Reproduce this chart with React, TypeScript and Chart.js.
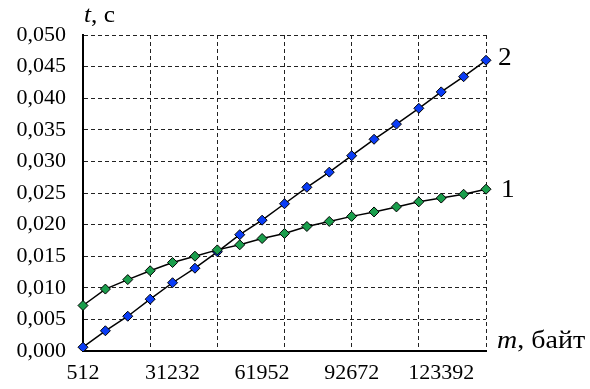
import React, { useEffect, useRef } from "react";
import { Chart, registerables } from "chart.js";

Chart.register(...registerables);

const categories = [
  "512", "8192", "15872", "23552", "31232", "38912", "46592", "54272", "61952",
  "69632", "77312", "84992", "92672", "100352", "108032", "115712", "123392",
  "131072", "138752",
];

// series 2 (blue)
const series2 = [
  0.0006, 0.0032, 0.0055, 0.0082, 0.0108, 0.0131, 0.0157, 0.0184, 0.0207,
  0.0233, 0.0259, 0.0283, 0.0309, 0.0335, 0.0359, 0.0384, 0.041, 0.0434, 0.046,
];

// series 1 (green)
const series1 = [
  0.0072, 0.0098, 0.0113, 0.0127, 0.014, 0.015, 0.016, 0.0168, 0.0178,
  0.0186, 0.0197, 0.0205, 0.0213, 0.022, 0.0228, 0.0236, 0.0242, 0.0248, 0.0256,
];

const yMin = 0;
const yMax = 0.05;
const yStep = 0.005;

const FONT = "'Liberation Serif', 'Times New Roman', serif";

function stretchedText(ctx: any, parts: { t: string; italic: boolean }[], x: number, y: number, size: number, sx: number) {
  ctx.save();
  ctx.translate(x, y);
  ctx.scale(sx, 1);
  let cx = 0;
  for (const p of parts) {
    ctx.font = `${p.italic ? "italic " : ""}${size}px ${FONT}`;
    ctx.fillText(p.t, cx, 0);
    cx += ctx.measureText(p.t).width;
  }
  ctx.restore();
}

const textPlugin = {
  id: "textLabels",
  afterDraw(chart: any) {
    const ctx = chart.ctx;
    ctx.save();
    ctx.fillStyle = "#000";
    ctx.textBaseline = "alphabetic";
    ctx.textAlign = "left";
    stretchedText(ctx, [{ t: "t", italic: true }, { t: ", c", italic: false }], 84, 22, 23, 1.1);
    stretchedText(ctx, [{ t: "m", italic: true }, { t: ", байт", italic: false }], 497, 348, 25, 1.12);
    stretchedText(ctx, [{ t: "2", italic: false }], 498, 65, 26, 1.05);
    stretchedText(ctx, [{ t: "1", italic: false }], 501, 197, 26, 1.05);
    ctx.restore();
  },
};

export default function App() {
  const ref = useRef<HTMLCanvasElement | null>(null);

  useEffect(() => {
    document.body.style.margin = "0";
    if (!ref.current) return;
    const chart = new Chart(ref.current, {
      type: "line",
      data: {
        labels: categories,
        datasets: [
          {
            label: "1",
            data: series1,
            borderColor: "#000",
            borderWidth: 1.5,
            backgroundColor: "#1a9e4c",
            pointBackgroundColor: "#1a9e4c",
            pointBorderColor: "#000",
            pointBorderWidth: 1,
            pointStyle: "rectRot",
            pointRadius: 5,
            tension: 0,
          },
          {
            label: "2",
            data: series2,
            borderColor: "#000",
            borderWidth: 1.5,
            backgroundColor: "#0a3cf5",
            pointBackgroundColor: "#0a3cf5",
            pointBorderColor: "#000",
            pointBorderWidth: 1,
            pointStyle: "rectRot",
            pointRadius: 5,
            tension: 0,
          },
        ],
      },
      options: {
        animation: false,
        responsive: true,
        maintainAspectRatio: false,
        layout: { padding: { top: 35, right: 104, bottom: 0, left: 0 } },
        plugins: {
          legend: { display: false },
          tooltip: { enabled: false },
        },
        scales: {
          x: {
            type: "category",
            offset: false,
            afterFit: (s: any) => {
              s.height = 38;
            },
            border: { display: true, color: "#000", width: 2, dash: [4, 3] },
            grid: {
              drawTicks: false,
              color: (c: any) => (c.index % 3 === 0 ? "#222" : "rgba(0,0,0,0)"),
              lineWidth: 1,
            },
            ticks: {
              autoSkip: false,
              maxRotation: 0,
              padding: 9,
              color: "#000",
              font: { family: FONT, size: 22 },
              callback: (_v: any, i: number) => (i % 4 === 0 ? categories[i] : ""),
            },
          },
          y: {
            min: yMin,
            max: yMax,
            afterFit: (s: any) => {
              s.width = 83;
            },
            border: { display: true, color: "#000", width: 2, dash: [4, 3] },
            grid: {
              drawTicks: false,
              color: "#222",
              lineWidth: 1,
            },
            ticks: {
              stepSize: yStep,
              padding: 17,
              color: "#000",
              font: { family: FONT, size: 22 },
              callback: (v: any) => (Math.round(Number(v) * 1000) / 1000).toFixed(3).replace(".", ","),
            },
          },
        },
      },
      plugins: [textPlugin],
    });
    return () => chart.destroy();
  }, []);

  return (
    <div style={{ position: "relative", width: 590, height: 389 }}>
      <canvas ref={ref} />
    </div>
  );
}
